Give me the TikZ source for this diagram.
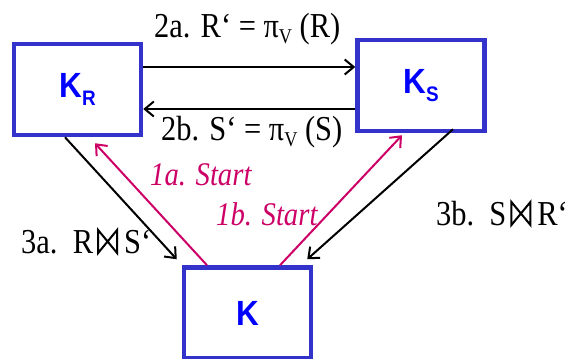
\documentclass[tikz,border=0pt]{standalone}
\usepackage{fontspec}
\setmainfont{Liberation Serif}[FakeStretch=0.87]
\setsansfont{Liberation Sans}[FakeStretch=0.9]
\usetikzlibrary{arrows.meta}
\definecolor{boxblue}{RGB}{51,51,204}
\definecolor{txtblue}{RGB}{0,0,255}
\definecolor{mag}{RGB}{204,0,102}
\newcommand{\subV}{\raisebox{-6pt}{\fontsize{21}{21}\selectfont V}}
\newcommand{\bt}{\hspace{4pt}\tikz[baseline=0pt]\draw[line width=2pt, line join=miter] (1pt,0pt) -- (1pt,23pt) -- (20pt,0pt) -- (20pt,23pt) -- cycle;\hspace{6pt}}
\tikzset{
  site/.style={draw=boxblue, line width=4.5pt, fill=white, minimum width=127pt, minimum height=91pt, inner sep=0pt, font=\sffamily\bfseries\fontsize{35}{35}\selectfont, text=txtblue},
  conn/.style={draw=black, line width=2pt, -{Straight Barb[length=9pt,width=15pt,line width=2pt]}},
  startconn/.style={draw=mag, line width=2pt, -{Straight Barb[length=9pt,width=15pt,line width=2pt]}},
  lbl/.style={font=\fontsize{35}{35}\selectfont, inner sep=0pt, anchor=base west},
  slbl/.style={font=\itshape\fontsize{33}{33}\selectfont, text=mag, inner sep=0pt, anchor=base west}
}
\begin{document}
\begin{tikzpicture}[x=1pt,y=-1pt]
\useasboundingbox (0,0) rectangle (582,359);
\node[site] (KR) at (77.5,89.5) {K\raisebox{-8pt}{\fontsize{21}{21}\selectfont R}};
\node[site] (KS) at (421,85.5) {K\raisebox{-8pt}{\fontsize{21}{21}\selectfont S}};
\node[site] (K) at (247.5,313) {K};
\draw[conn] ([yshift=22.5pt]KR.east) -- ([yshift=18.5pt]KS.west);
\draw[conn] ([yshift=-23.5pt]KS.west) -- ([yshift=-19.5pt]KR.east);
\draw[conn] ([xshift=-12.5pt]KR.south) -- ([shift={(-5pt,6pt)}]K.north west);
\draw[conn] ([xshift=32pt,yshift=4pt]KS.south) -- ([shift={(-6pt,6pt)}]K.north east);
\draw[startconn] ([xshift=-40.5pt]K.north) -- ([shift={(17.5pt,-6pt)}]KR.south);
\draw[startconn] ([xshift=32.5pt]K.north) -- ([shift={(-19pt,-2pt)}]KS.south);
\node[lbl] (l2a) at (154,37) {2a. R‘ = π\subV{} (R)};
\node[lbl] (l2b) at (161,140) {2b. S‘ = π\subV{} (S)};
\node[lbl] (l3a) at (21,253) {3a.\ \ R\bt S‘};
\node[lbl] (l3b) at (436,225) {3b.\ \ S\bt R‘};
\node[slbl] (l1a) at (150,185) {1a. Start};
\node[slbl] (l1b) at (216,225) {1b. Start};
\end{tikzpicture}
\end{document}
